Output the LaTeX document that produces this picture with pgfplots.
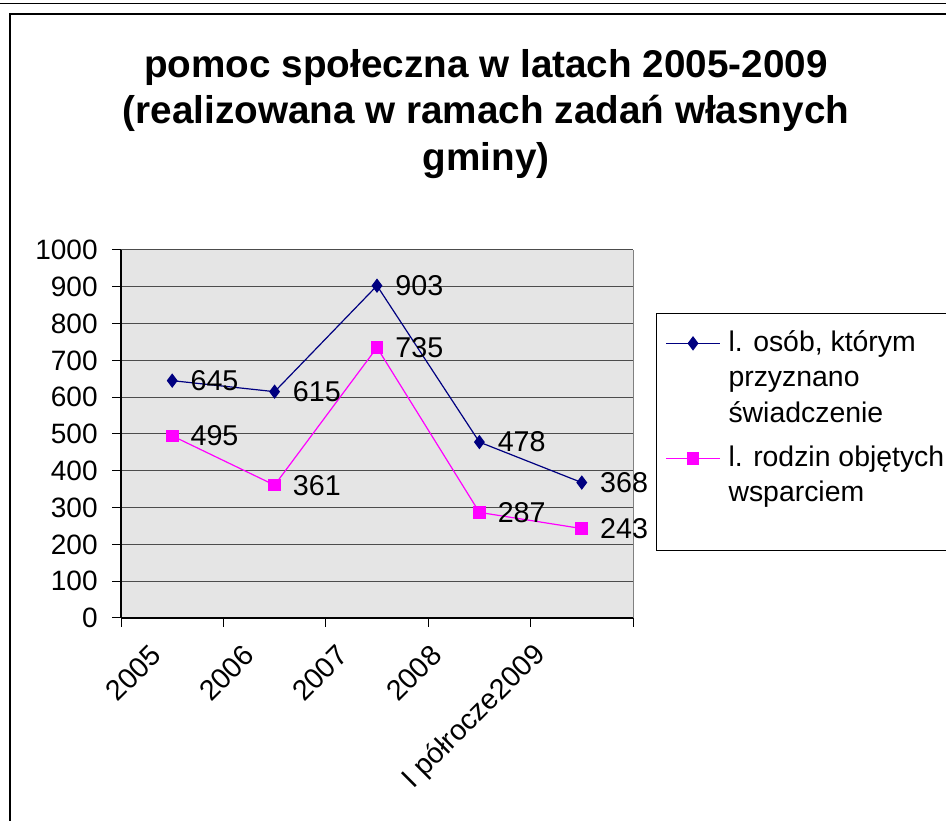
\documentclass[border=0pt]{standalone}
\usepackage{pgfplots}
\pgfplotsset{compat=1.18}
\usepackage{fontspec}
\setmainfont{Liberation Sans}
\definecolor{navyc}{RGB}{0,0,128}
\definecolor{magc}{RGB}{255,0,255}
\definecolor{plotbg}{RGB}{229,229,229}
\newcommand{\tickfont}{\fontsize{21pt}{25pt}\selectfont}
\begin{document}
\begin{tikzpicture}
\path[use as bounding box] (0,0) rectangle (709.5pt,615.75pt);
% outer lines
\draw[line width=0.9pt] (-2pt,613.1pt) -- (712pt,613.1pt);
\draw[line width=1.5pt] (7.5pt,-5pt) -- (7.5pt,605.25pt) -- (715pt,605.25pt);
% title
\node[anchor=base,font=\fontsize{29pt}{34.5pt}\selectfont\bfseries] at (364.5pt,557.25pt) {pomoc społeczna w latach 2005-2009};
\node[anchor=base,font=\fontsize{29pt}{34.5pt}\selectfont\bfseries] at (364.5pt,522.75pt) {(realizowana w ramach zadań własnych};
\node[anchor=base,font=\fontsize{29pt}{34.5pt}\selectfont\bfseries] at (364.5pt,487.5pt) {gminy)};
\begin{axis}[
  at={(90.75pt,152.25pt)}, anchor=south west,
  width=384pt, height=276pt, scale only axis,
  xmin=0, xmax=5, ymin=0, ymax=1000,
  axis lines*=left,
  axis line style={black, line width=0.9pt},
  axis background/.style={fill=plotbg},
  ytick={0,100,...,1000},
  ymajorgrids, grid style={black!70, line width=0.75pt},
  xtick={0,1,2,3,4,5}, xticklabels={},
  extra x ticks={0.40,1.31,2.22,3.14,4.16},
  extra x tick labels={2005,2006,2007,2008,I półrocze2009},
  extra x tick style={major tick length=0pt, xticklabel style={yshift=-22pt, xshift=-2pt, rotate=45, anchor=east, font=\fontsize{21.5pt}{25pt}\selectfont}},
  tick align=outside, major tick length=6.5pt,
  tick style={black, line width=0.75pt},
  /pgf/number format/assume math mode=true,
  /pgf/number format/1000 sep={},
  ticklabel style={font=\tickfont},
  yticklabel style={xshift=-7.5pt},
  clip=false,
  legend style={at={(rel axis cs:1.045,0.829)}, anchor=north west, draw=black, fill=white,
    font=\fontsize{21.3pt}{26.5pt}\selectfont, cells={align=left, anchor=north west},
    row sep=3pt, inner xsep=7pt, inner ysep=1.5pt, line width=0.75pt},
  nodes near coords, nodes near coords align={horizontal},
  every node near coord/.append style={black, xshift=10pt, font=\fontsize{21.5pt}{25pt}\selectfont},
]
\addplot[navyc, line width=0.9pt, mark=diamond*, mark size=4.7pt, mark options={fill=navyc},
  legend image code/.code={\draw[mark repeat=2,mark phase=2] plot coordinates {(0cm,-12pt) (0.7cm,-12pt) (1.4cm,-12pt)}; \path (0cm,8.5pt) (1.55cm,-12pt);}] coordinates {
 (0.5,645) (1.5,615) (2.5,903) (3.5,478) (4.5,368)};
\addlegendentry{l. osób, którym\\przyznano\\świadczenie}
\addplot[magc, line width=0.9pt, mark=square*, mark size=4.3pt, mark options={fill=magc},
  legend image code/.code={\draw[mark repeat=2,mark phase=2] plot coordinates {(0cm,-12pt) (0.7cm,-12pt) (1.4cm,-12pt)}; \path (0cm,8.5pt) (1.55cm,-12pt);}] coordinates {
 (0.5,495) (1.5,361) (2.5,735) (3.5,287) (4.5,243)};
\addlegendentry{l. rodzin objętych\\wsparciem\\[5pt]\mbox{}}
\draw[gray, line width=0.75pt] (rel axis cs:1,0) -- (rel axis cs:1,1);
\end{axis}
\end{tikzpicture}
\end{document}
